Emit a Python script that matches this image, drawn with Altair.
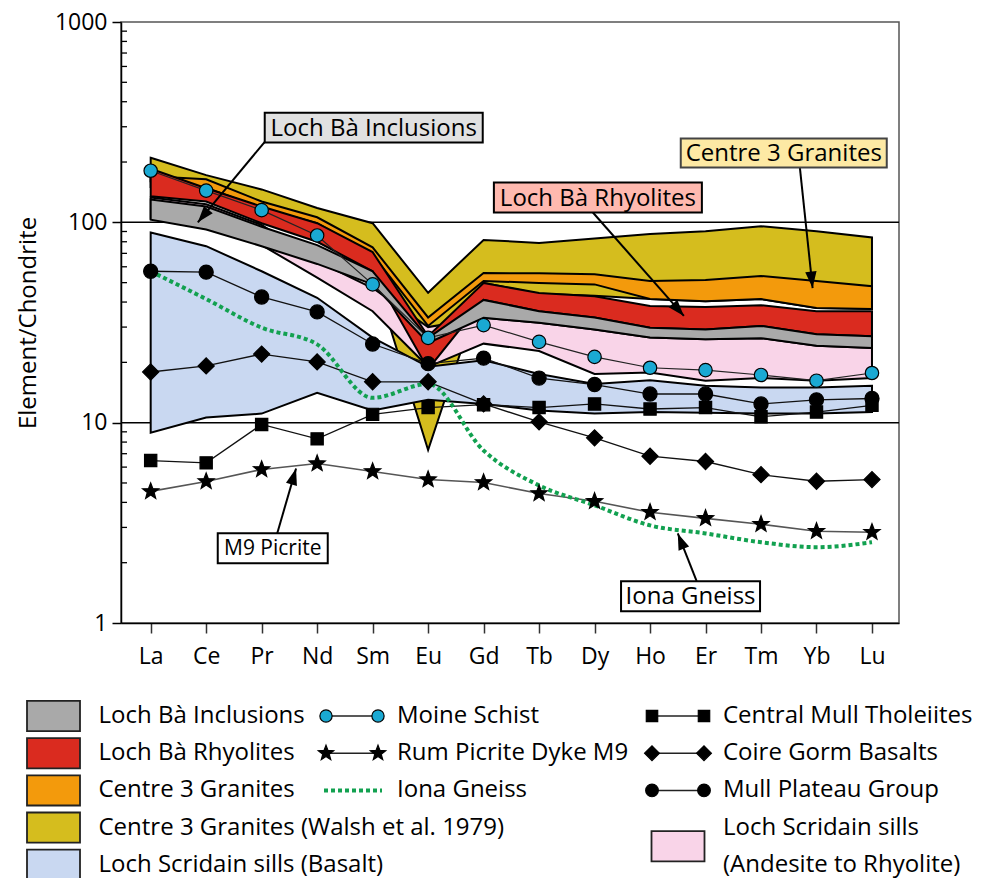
import math
import altair as alt
import pandas as pd

# ---------------- data ----------------
ELEMENTS = ["La", "Ce", "Pr", "Nd", "Sm", "Eu", "Gd", "Tb", "Dy", "Ho", "Er", "Tm", "Yb", "Lu"]

# field envelopes (upper / lower), chondrite normalised
walsh_hi = [210, 172, 146, 118, 99, 44.5, 81.7, 78.9, 83, 87.5, 90.3, 95.6, 90.3, 84]
walsh_lo = [150, 140, 110, 90, 57, 7.3, 49.8, 44, 43, 41.4, 40.4, 41.4, 37.4, 36.9]
c3_hi = [170, 164, 127, 106, 75, 33.5, 55.8, 55.7, 55, 51, 51.5, 54, 51, 48]
c3_lo = [160, 149, 118, 99, 69, 30.4, 51, 49.8, 49, 41.4, 40.4, 41.4, 37.4, 36.9]
scr_hi = [133, 123, 97, 64, 47, 30, 33.4, 31.5, 29.2, 26.6, 26.1, 26.4, 24.2, 23.6]
scr_lo = [104, 93, 77, 53, 36, 19, 24.8, 22.8, 17.5, 17.8, 16.2, 16.7, 16.2, 16.7]
rhy_hi = [185, 148, 120, 99, 71, 27, 49.8, 44.4, 42.8, 38.2, 37.8, 38.6, 36, 36]
rhy_lo = [135, 127, 99, 80, 57, 18.5, 41, 36, 33.5, 29.8, 29.2, 30.4, 27.6, 27]
incl_hi = [130, 120, 95, 77, 57, 26.5, 41, 36, 33.5, 29.8, 29.2, 30.4, 27.6, 27]
incl_lo = [103, 92, 76, 62, 49, 25, 33.4, 31.5, 29.2, 26.6, 26.1, 26.4, 24.2, 23.6]
bas_hi = [89, 76, 57, 42, 26.6, 19, 20.5, 17.5, 15.6, 16.3, 15.3, 15, 15, 15.3]
bas_lo = [8.9, 10.6, 11.1, 14.1, 11.5, 13.0, 12.4, 11.5, 11.1, 11.3, 11.2, 11.1, 11.1, 11.3]

# individual samples
moine = [181, 144, 115, 86, 49, 26.5, 30.7, 25.3, 21.3, 18.8, 18.3, 17.3, 16.2, 17.7]
mull_plateau = [57, 56.4, 42.4, 35.7, 24.7, 19.7, 21, 16.7, 15.5, 13.9, 13.9, 12.4, 13.0, 13.2]
coire_gorm = [17.9, 19.2, 22.0, 20.1, 16.0, 16.0, 12.4, 10.1, 8.4, 6.8, 6.4, 5.5, 5.1, 5.2]
central_mull = [6.47, 6.3, 9.8, 8.3, 11.0, 11.9, 12.3, 11.9, 12.4, 11.7, 11.9, 10.7, 11.3, 12.2]
rum_m9 = [4.54, 5.09, 5.84, 6.25, 5.71, 5.2, 5.03, 4.43, 4.05, 3.57, 3.33, 3.11, 2.87, 2.84]
iona = [57, 41.4, 29.8, 24.6, 13.3, 15.6, 7.26, 4.86, 3.87, 3.07, 2.8, 2.53, 2.39, 2.53]

# annotations: label, box centre (element index, value), arrow start, arrow tip
ann_labels = ["Loch Bà Inclusions", "Loch Bà Rhyolites", "Centre 3 Granites", "M9 Picrite", "Iona Gneiss"]
ann_x = [4.02, 8.06, 11.41, 2.20, 9.73]
ann_y = [297, 133, 222, 2.36, 1.36]
ann_from_x = [2.06, 7.97, 11.70, 2.28, 9.84]
ann_from_y = [253, 112, 188, 2.80, 1.62]
ann_to_x = [0.85, 9.61, 11.93, 2.62, 9.50]
ann_to_y = [100, 34.1, 47, 5.9, 2.8]

# legend entries
leg_labels = ["Loch Bà Inclusions", "Loch Bà Rhyolites", "Centre 3 Granites",
              "Centre 3 Granites (Walsh et al. 1979)", "Loch Scridain sills (Basalt)",
              "Moine Schist", "Rum Picrite Dyke M9", "Iona Gneiss",
              "Central Mull Tholeiites", "Coire Gorm Basalts", "Mull Plateau Group",
              "Loch Scridain sills\n(Andesite to Rhyolite)"]
leg_col = [0, 0, 0, 0, 0, 1, 1, 1, 2, 2, 2, 2]
leg_row = [0, 1, 2, 3, 4, 0, 1, 2, 0, 1, 2, 3.5]
leg_text_row = [0, 1, 2, 3, 4, 0, 1, 2, 0, 1, 2, 3]

MINOR = [m * 10 ** e for e in range(3) for m in range(2, 10)]
GRID = [10, 100]

# ---------------- styles ----------------
FONT = "Open Sans"
W, H = 778, 601
XMIN, XMAX = -0.535, 13.487
C_GREY, C_RED, C_ORANGE, C_YELLOW = "#a9a9a9", "#da2b1f", "#f39a0c", "#d5bd1e"
C_BLUE, C_PINK, C_CYAN, C_GREEN = "#c9d8f1", "#f9d4e8", "#1aa9d3", "#12a150"
ROW0, ROWSTEP = 694, 37.2

# five-pointed star glyph (unit size)
_pts = []
for i in range(10):
    r = 1.0 if i % 2 == 0 else 0.42
    a = math.radians(-90 + 36 * i)
    _pts.append("%.3f,%.3f" % (r * math.cos(a), r * math.sin(a)))
STAR = "M" + "L".join(_pts) + "Z"

xscale = alt.Scale(domain=[XMIN, XMAX], nice=False, zero=False)
yscale = alt.Scale(type="log", domain=[1, 1000], nice=False)
xaxis = alt.Axis(orient="bottom", values=list(range(len(ELEMENTS))),
                 labelExpr="[" + ",".join("'%s'" % e for e in ELEMENTS) + "][datum.value]",
                 title=None, grid=False, tickSize=10, tickWidth=1.5, tickColor="#333",
                 domainColor="black", domainWidth=1.5, labelFontSize=23, labelPadding=12,
                 labelColor="black", labelFont=FONT)
yaxis = alt.Axis(orient="left", values=[1, 10, 100, 1000], format="d", title="Element/Chondrite",
                 grid=False, tickSize=9, tickWidth=1.5, tickColor="black",
                 domainColor="black", domainWidth=1.5, labelFontSize=23, labelPadding=5,
                 labelColor="black", labelFont=FONT, titleFontSize=24,
                 titleFontWeight="normal", titleColor="black", titleFont=FONT, titlePadding=14)


def X(field):
    return alt.X(field, type="quantitative", scale=xscale, axis=xaxis)


def Y(field):
    return alt.Y(field, type="quantitative", scale=yscale, axis=yaxis)


layers = []

# grid lines at 10 and 100 (behind the fields)
layers.append(alt.Chart(pd.DataFrame({"v": GRID})).mark_rule(color="black", strokeWidth=1.5)
              .encode(y=Y("v")))

# fields
bands = [(walsh_hi, walsh_lo, C_YELLOW), (c3_hi, c3_lo, C_ORANGE), (scr_hi, scr_lo, C_PINK),
         (rhy_hi, rhy_lo, C_RED), (incl_hi, incl_lo, C_GREY), (bas_hi, bas_lo, C_BLUE)]
for hi, lo, col in bands:
    df = pd.DataFrame({"idx": range(len(ELEMENTS)), "hi": hi, "lo": lo})
    layers.append(alt.Chart(df).mark_area(fill=col, stroke="black", strokeWidth=2,
                                          strokeJoin="miter", opacity=1)
                  .encode(x=X("idx"), y=Y("hi"), y2="lo"))

# minor ticks (inside)
layers.append(alt.Chart(pd.DataFrame({"v": MINOR})).mark_rule(color="black", strokeWidth=1.3)
              .encode(y=Y("v"), x=alt.value(0), x2=alt.value(6)))

series = [
    (central_mull, "square", "black", 150, "#111", 1.3),
    (coire_gorm, "diamond", "black", 260, "#111", 1.3),
    (mull_plateau, "circle", "black", 200, "#111", 1.3),
    (rum_m9, STAR, "black", 290, "#555", 1.6),
    (moine, "circle", C_CYAN, 180, "#222", 1.2),
]
for vals, shape, fill, size, lcol, lw in series:
    df = pd.DataFrame({"idx": range(len(ELEMENTS)), "val": vals})
    layers.append(alt.Chart(df).mark_line(color=lcol, strokeWidth=lw)
                  .encode(x=X("idx"), y=Y("val")))

iona_df = pd.DataFrame({"idx": range(len(ELEMENTS)), "val": iona})
layers.append(alt.Chart(iona_df).mark_line(color=C_GREEN, strokeWidth=4, strokeDash=[4, 3],
                                           interpolate="monotone")
              .encode(x=X("idx"), y=Y("val")))

for vals, shape, fill, size, lcol, lw in series:
    df = pd.DataFrame({"idx": range(len(ELEMENTS)), "val": vals})
    layers.append(alt.Chart(df).mark_point(shape=shape, size=size, filled=True, fill=fill,
                                           stroke="black", strokeWidth=1.2, opacity=1)
                  .encode(x=X("idx"), y=Y("val")))

# annotations
pxu = W / (XMAX - XMIN)
pyd = H / 3.0
angles = []
for fx, fy, tx, ty in zip(ann_from_x, ann_from_y, ann_to_x, ann_to_y):
    dx = (tx - fx) * pxu
    dy = -(math.log10(ty) - math.log10(fy)) * pyd
    angles.append(math.degrees(math.atan2(dx, -dy)) % 360)
arrow_df = pd.DataFrame({"x0": ann_from_x, "y0": ann_from_y, "x1": ann_to_x, "y1": ann_to_y,
                         "angle": angles})
layers.append(alt.Chart(arrow_df).mark_rule(color="black", strokeWidth=2)
              .encode(x=X("x0"), y=Y("y0"), x2="x1", y2="y1"))
layers.append(alt.Chart(arrow_df).mark_point(shape="M0,0L-0.45,1.3L0.45,1.3Z", size=640,
                                             filled=True, fill="black", opacity=1)
              .encode(x=X("x1"), y=Y("y1"), angle=alt.Angle("angle:Q", scale=None)))

box_w = [218, 208, 206, 110, 139]
box_h = [30, 30, 29, 30, 30]
box_fill = ["#e1e1e1", "#ffb9af", "#fde9a4", "white", "white"]
box_stroke = ["black", "black", "#444", "black", "black"]
font_sz = [24, 24, 24, 21, 24]
ann_df = pd.DataFrame({
    "x": ann_x, "y": ann_y, "label": ann_labels,
    "path": ["M-1,-%.4fH1V%.4fH-1Z" % (h / w, h / w) for w, h in zip(box_w, box_h)],
    "bsize": [w * w for w in box_w], "fill": box_fill, "stroke": box_stroke, "fs": font_sz,
})
layers.append(alt.Chart(ann_df).mark_point(filled=True, strokeWidth=2, opacity=1)
              .encode(x=X("x"), y=Y("y"), shape=alt.Shape("path:N", scale=None),
                      size=alt.Size("bsize:Q", scale=None), fill=alt.Fill("fill:N", scale=None),
                      stroke=alt.Stroke("stroke:N", scale=None)))
layers.append(alt.Chart(ann_df).mark_text(font=FONT, color="black", baseline="middle",
                                          align="center", dy=1)
              .encode(x=X("x"), y=Y("y"), text="label:N", size=alt.Size("fs:Q", scale=None)))

main = alt.layer(*layers)

# ---------------- legend ----------------
lx = alt.Scale(domain=[0, 1, 2], range=[-67.5, 231, 557], nice=False, zero=False)
ly = alt.Scale(domain=[0, 4], range=[ROW0, ROW0 + 4 * ROWSTEP], nice=False, zero=False)


def LX(field):
    return alt.X(field, type="quantitative", scale=lx, axis=None)


def LY(field):
    return alt.Y(field, type="quantitative", scale=ly, axis=None)


leg_df = pd.DataFrame({"label": leg_labels, "col": leg_col, "row": leg_row,
                       "trow": leg_text_row})
sw_fill = [C_GREY, C_RED, C_ORANGE, C_YELLOW, C_BLUE, None, None, None, None, None, None, C_PINK]
leg_df["swfill"] = sw_fill
sw_df = leg_df[leg_df["swfill"].notna()]

leg_layers = []
leg_layers.append(alt.Chart(sw_df).mark_point(shape="M-1,-0.57H1V0.57H-1Z", size=2809,
                                              filled=True, stroke="#222", strokeWidth=1.8,
                                              opacity=1)
                  .encode(x=LX("col"), y=LY("row"), fill=alt.Fill("swfill:N", scale=None)))

ln_df = leg_df[leg_df["swfill"].isna() & (leg_df["label"] != "Iona Gneiss")].copy()
ln_df["shape"] = ["circle", STAR, "square", "diamond", "circle"]
ln_df["pfill"] = [C_CYAN, "black", "black", "black", "black"]
ln_df["psize"] = [150, 260, 130, 220, 160]
leg_layers.append(alt.Chart(ln_df).mark_rule(color="#222", strokeWidth=1.5,
                                             xOffset=-26, x2Offset=26)
                  .encode(x=LX("col"), x2="col", y=LY("row")))
io_df = leg_df[leg_df["label"] == "Iona Gneiss"]
leg_layers.append(alt.Chart(io_df).mark_rule(color=C_GREEN, strokeWidth=4, strokeDash=[4, 3],
                                             xOffset=-28, x2Offset=30)
                  .encode(x=LX("col"), x2="col", y=LY("row")))
for off in (-26, 26):
    leg_layers.append(alt.Chart(ln_df).mark_point(filled=True, stroke="black", strokeWidth=1.2,
                                                  opacity=1, xOffset=off)
                      .encode(x=LX("col"), y=LY("row"),
                              shape=alt.Shape("shape:N", scale=None),
                              fill=alt.Fill("pfill:N", scale=None),
                              size=alt.Size("psize:Q", scale=None)))
leg_layers.append(alt.Chart(leg_df).mark_text(font=FONT, fontSize=24, color="black",
                                              align="left", baseline="middle", dx=45,
                                              lineBreak="\n", lineHeight=ROWSTEP)
                  .encode(x=LX("col"), y=LY("trow"), text="label:N"))

legend = alt.layer(*leg_layers)

chart = (alt.layer(main, legend)
         .resolve_scale(x="independent", y="independent")
         .properties(width=W, height=H, autosize=alt.AutoSizeParams(type="none"),
                     padding={"left": 113, "top": 14, "right": 78, "bottom": 255})
         .configure(font=FONT)
         .configure_view(stroke="#555", strokeWidth=1.5))

chart.save("out.html", embed_options={"renderer": "svg", "actions": False})
